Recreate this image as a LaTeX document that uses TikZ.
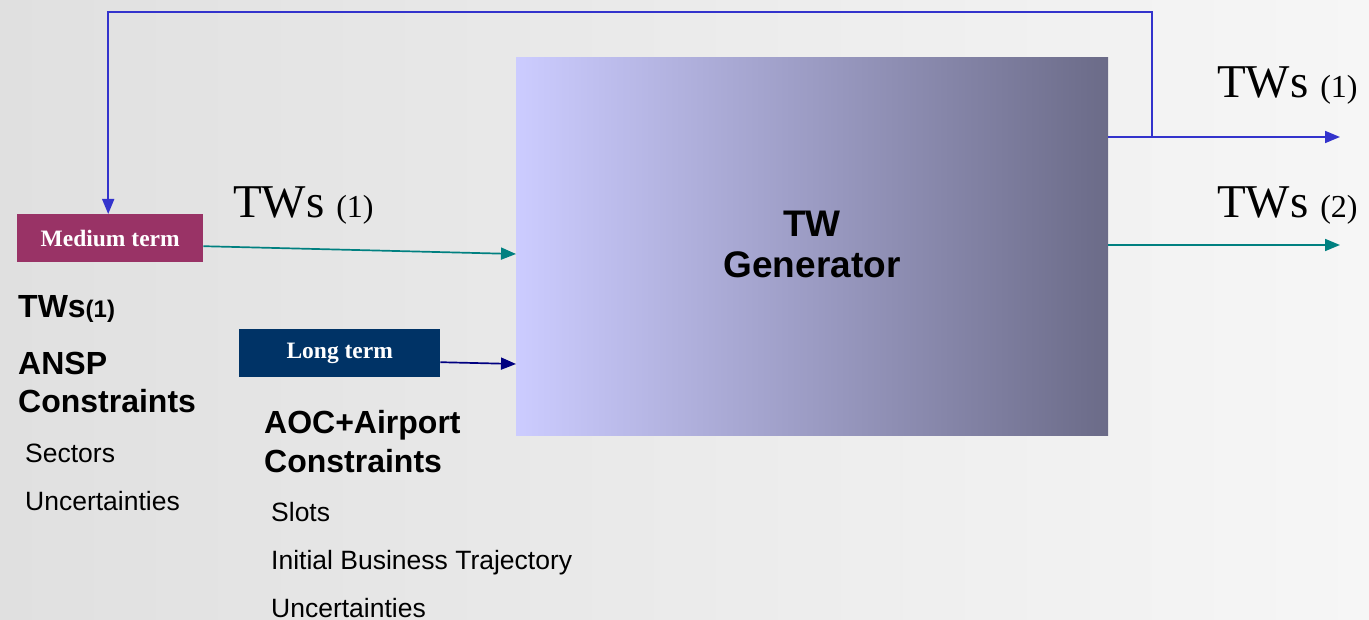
\documentclass[tikz,border=0pt]{standalone}
\usepackage{fontspec}
\setmainfont{Liberation Serif}
\setsansfont{Liberation Sans}
\usetikzlibrary{arrows.meta}
\definecolor{bgL}{HTML}{E0E0E0}
\definecolor{bgR}{HTML}{F6F6F6}
\definecolor{genL}{HTML}{CCCCFF}
\definecolor{genR}{HTML}{6B6B88}
\definecolor{medC}{HTML}{993366}
\definecolor{longC}{HTML}{003366}
\definecolor{tealC}{HTML}{008080}
\definecolor{navyC}{HTML}{000080}
\definecolor{blueC}{HTML}{3333CC}
\begin{document}
\begin{tikzpicture}[x=1pt,y=-1pt,
 termbox/.style={draw=none, inner sep=0, anchor=north west, text=white, minimum height=48pt, font=\fontsize{23.5}{28}\selectfont\bfseries},
 conn/.style={line width=1.7pt, -{Triangle[length=15pt,width=12pt]}},
 lbl/.style={inner sep=0, anchor=base west},
 big/.style={lbl, font=\fontsize{47}{50}\selectfont},
 hd/.style={lbl, font=\sffamily\bfseries\fontsize{32}{36}\selectfont},
 itm/.style={lbl, font=\sffamily\fontsize{26.5}{30}\selectfont},
 gentxt/.style={inner sep=0, anchor=base, font=\sffamily\bfseries\fontsize{37}{40}\selectfont},
]
\useasboundingbox (0,0) rectangle (1369,620);
\shade[left color=bgL, right color=bgR] (0,0) rectangle (1369,620);

% boxes
\node[anchor=north west, inner sep=0, minimum width=592pt, minimum height=378pt, left color=genL, right color=genR] (gen) at (516,57) {};
\node[termbox, fill=medC, minimum width=186pt] (med) at (17,214) {Medium term};
\node[termbox, fill=longC, minimum width=201pt] (long) at (239,329) {Long term};

\node[gentxt] (gtw) at (812,237) {TW};
\node[gentxt] (ggen) at (812,278) {Generator};

% connector points
\path (med.east) ++(0,8) coordinate (m1);
\path (long.east) ++(0,9) coordinate (l1);
\coordinate (g1) at (516,254);
\coordinate (g2) at (516,364);
\coordinate (o1s) at (1108,137);
\coordinate (j) at (1152,137);
\coordinate (o1) at (1340,137);
\coordinate (o2s) at (1108,245);
\coordinate (o2) at (1340,245);

\draw[conn, tealC] (m1) -- (g1);
\draw[conn, navyC] (l1) -- (g2);
\draw[conn, blueC] (o1s) -- (o1);
\draw[conn, tealC] (o2s) -- (o2);
\draw[conn, blueC] (j) -- (j |- 0,12) -| ([xshift=-2pt]med.north);

% labels
\node[big] (tw1a) at (233,218) {TWs {\fontsize{32}{34}\selectfont (1)}};
\node[big] (tw1b) at (1217,98) {TWs {\fontsize{32}{34}\selectfont (1)}};
\node[big] (tw2) at (1217,218) {TWs {\fontsize{32}{34}\selectfont (2)}};

\node[hd] (h1) at (18,318) {TWs{\fontsize{24}{26}\selectfont(1)}};
\node[hd] (h2) at (18,375) {ANSP};
\node[hd] (h3) at (18,413) {Constraints};
\node[itm] (i1) at (25,462) {Sectors};
\node[itm] (i2) at (25,510) {Uncertainties};

\node[hd] (h4) at (264,434) {AOC+Airport};
\node[hd] (h5) at (264,472) {Constraints};
\node[itm] (i3) at (271,521) {Slots};
\node[itm] (i4) at (271,569) {Initial Business Trajectory};
\node[itm] (i5) at (271,617) {Uncertainties};
\end{tikzpicture}
\end{document}
